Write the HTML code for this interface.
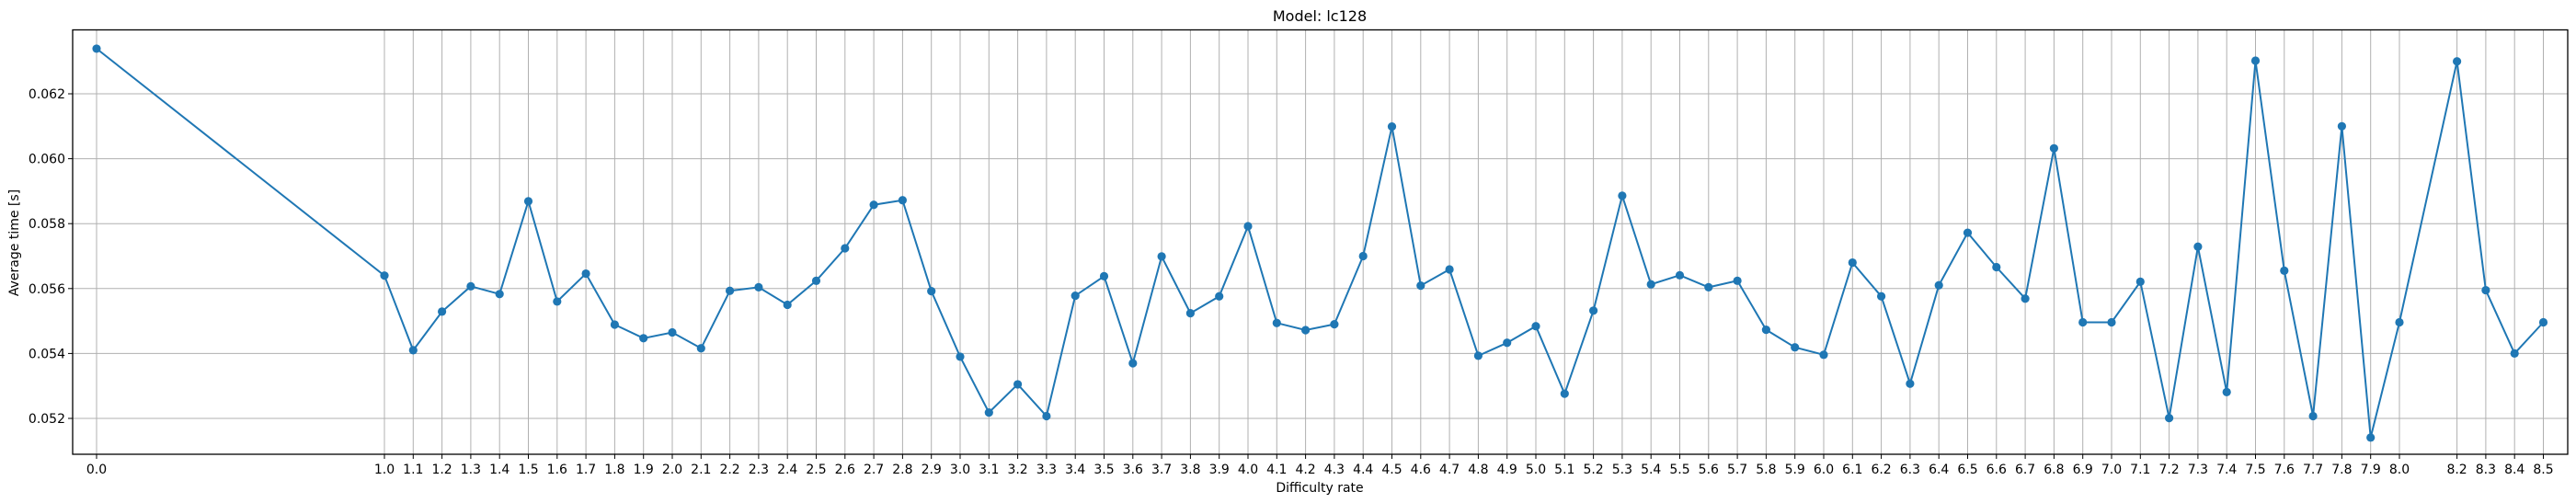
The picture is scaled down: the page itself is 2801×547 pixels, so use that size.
<!DOCTYPE html>
<html>
<head>
<meta charset="utf-8">
<style>
html,body{margin:0;padding:0;background:#fff;}
svg{display:block;font-family:"DejaVu Sans","Liberation Sans",sans-serif;}
</style>
</head>
<body>
<svg id="chart" width="2801" height="547" viewBox="0 0 2801 547" xmlns="http://www.w3.org/2000/svg">
<rect width="2801" height="547" fill="#fff"/>
<text x="1435" y="23" font-size="16" text-anchor="middle" fill="#000">Model: lc128</text>
<text x="1435" y="535" font-size="14" text-anchor="middle" fill="#000">Difficulty rate</text>
<text x="0" y="0" font-size="14" text-anchor="middle" fill="#000" transform="translate(20,264) rotate(-90)">Average time [s]</text>
<g id="grid"></g>
<g id="ticks"></g>
<g id="series"></g>
<rect x="79" y="32.5" width="2713" height="461.5" fill="none" stroke="#000" stroke-width="1.3"/>
</svg>
<script>
const categories = [0.0,1.0,1.1,1.2,1.3,1.4,1.5,1.6,1.7,1.8,1.9,2.0,2.1,2.2,2.3,2.4,2.5,2.6,2.7,2.8,2.9,3.0,3.1,3.2,3.3,3.4,3.5,3.6,3.7,3.8,3.9,4.0,4.1,4.2,4.3,4.4,4.5,4.6,4.7,4.8,4.9,5.0,5.1,5.2,5.3,5.4,5.5,5.6,5.7,5.8,5.9,6.0,6.1,6.2,6.3,6.4,6.5,6.6,6.7,6.8,6.9,7.0,7.1,7.2,7.3,7.4,7.5,7.6,7.7,7.8,7.9,8.0,8.2,8.3,8.4,8.5];
const avgTime = [0.06339,0.05640,0.05410,0.05529,0.05607,0.05583,0.05869,0.05560,0.05646,0.05489,0.05447,0.05465,0.05416,0.05593,0.05604,0.05550,0.05624,0.05724,0.05858,0.05872,0.05592,0.05390,0.05218,0.05305,0.05207,0.05578,0.05638,0.05370,0.05699,0.05524,0.05576,0.05792,0.05494,0.05472,0.05490,0.05700,0.06099,0.05609,0.05659,0.05393,0.05433,0.05484,0.05276,0.05532,0.05886,0.05613,0.05641,0.05604,0.05624,0.05473,0.05419,0.05396,0.05680,0.05576,0.05307,0.05610,0.05772,0.05666,0.05569,0.06032,0.05496,0.05496,0.05621,0.05201,0.05729,0.05281,0.06302,0.05655,0.05207,0.06100,0.05141,0.05496,0.06300,0.05595,0.05400,0.05496];
const yTicks = [0.052,0.054,0.056,0.058,0.060,0.062];
const yTickLabels = ["0.052","0.054","0.056","0.058","0.060","0.062"];

const NS = "http://www.w3.org/2000/svg";
const plotL = 79, plotR = 2792, plotT = 32.5, plotB = 494;
function xScale(v){ return 105 + v * 313; }
function yScale(v){ return 455 - (v - 0.052) / 0.002 * 70.6; }
function mk(tag, attrs, parent){
  const el = document.createElementNS(NS, tag);
  for (const k in attrs) el.setAttribute(k, attrs[k]);
  parent.appendChild(el);
  return el;
}
const grid = document.getElementById('grid');
const ticks = document.getElementById('ticks');
const series = document.getElementById('series');

categories.forEach((c) => {
  const x = xScale(c);
  const g = mk('line', {x1:x, x2:x, y1:plotT, y2:plotB, stroke:'#b0b0b0', 'stroke-width':1}, grid);
  
  
  const t = mk('line', {x1:x, x2:x, y1:plotB, y2:plotB+5, stroke:'#000', 'stroke-width':1}, ticks);
  
  
  const lb = mk('text', {x:x, y:plotB+21, 'font-size':14, 'text-anchor':'middle', fill:'#000'}, ticks);
  lb.textContent = c.toFixed(1);
  
  
});
yTicks.forEach((v, i) => {
  const y = yScale(v);
  const g = mk('line', {x1:plotL, x2:plotR, y1:y, y2:y, stroke:'#b0b0b0', 'stroke-width':1}, grid);
  
  
  const t = mk('line', {x1:plotL-5, x2:plotL, y1:y, y2:y, stroke:'#000', 'stroke-width':1}, ticks);
  
  
  const lb = mk('text', {x:plotL-8, y:y+5, 'font-size':14, 'text-anchor':'end', fill:'#000'}, ticks);
  lb.textContent = yTickLabels[i];
  
  
});
const pts = categories.map((c, i) => xScale(c).toFixed(1) + ',' + yScale(avgTime[i]).toFixed(1)).join(' ');
const line = mk('polyline', {points:pts, fill:'none', stroke:'#1f77b4', 'stroke-width':2}, series);


categories.forEach((c, i) => {
  const p = mk('circle', {cx:xScale(c), cy:yScale(avgTime[i]), r:4.6, fill:'#1f77b4'}, series);
  
  
});
</script>
</body>
</html>
